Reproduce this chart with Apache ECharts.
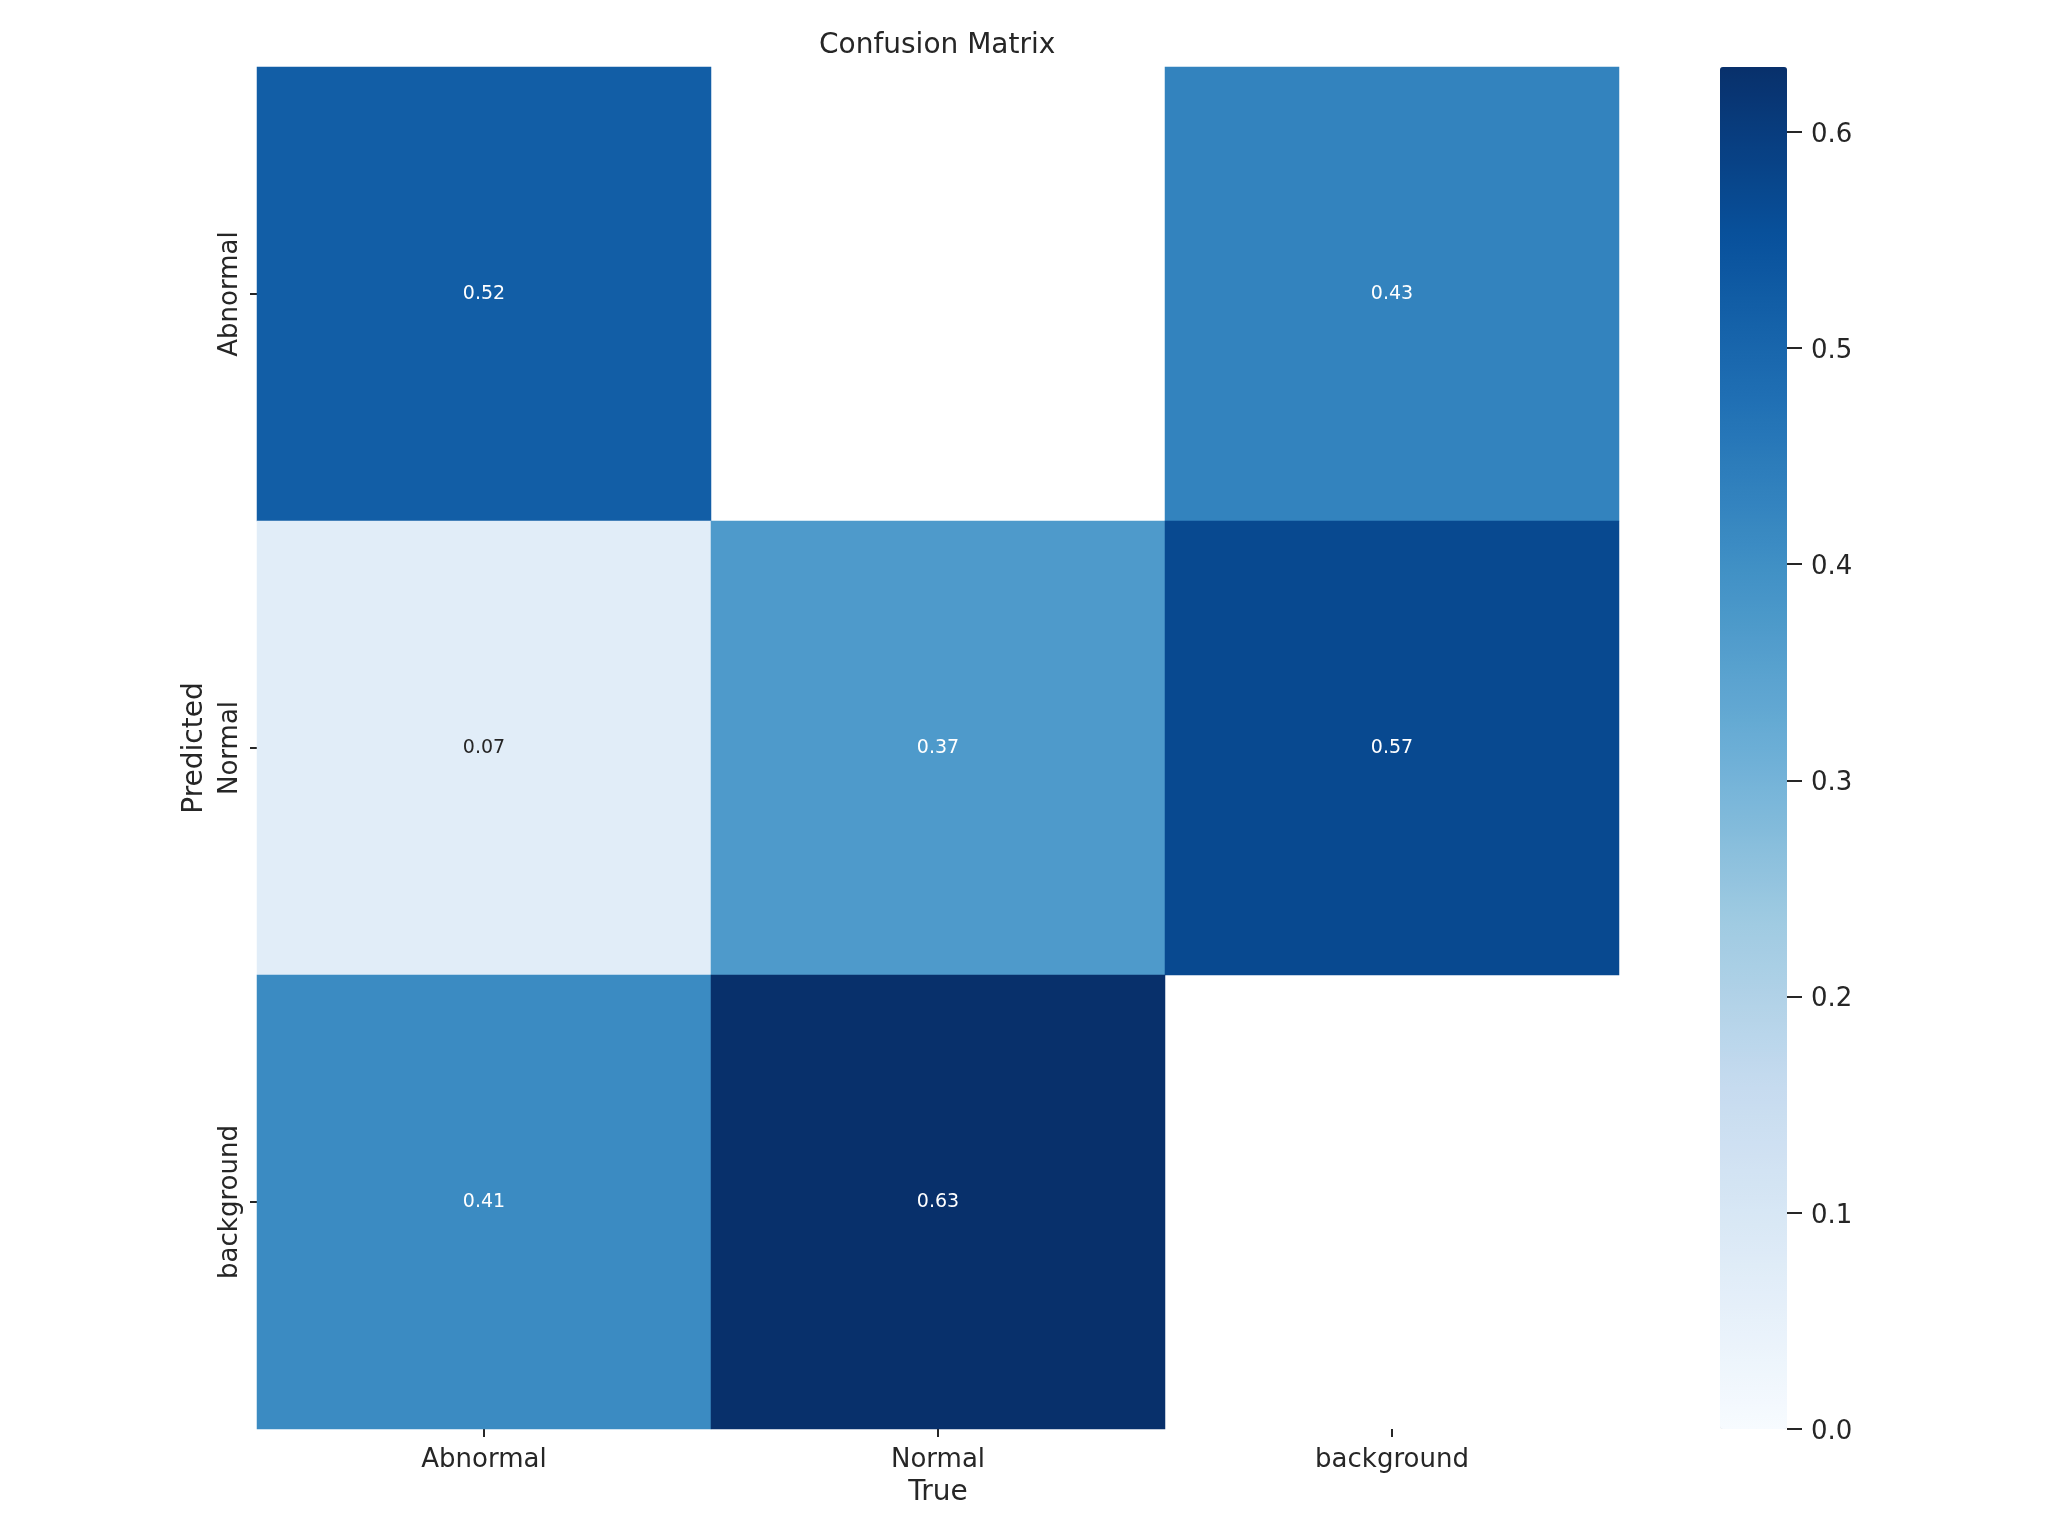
<!DOCTYPE html>
<html>
<head>
<meta charset="utf-8">
<script src="https://cdn.jsdelivr.net/npm/echarts@6/dist/echarts.min.js"></script>
<style>
html,body{margin:0;padding:0;background:#fff;}
#chart{width:2048px;height:1536px;}
</style>
</head>
<body>
<div id="chart"></div>
<script>
// True classes (columns) and Predicted classes (rows)
var trueLabels = ['Abnormal', 'Normal', 'background'];
var predictedLabels = ['Abnormal', 'Normal', 'background'];
// Rows = Predicted, columns = True (null = empty cell)
var rowAbnormal = [0.52, null, 0.43];
var rowNormal = [0.07, 0.37, 0.57];
var rowBackground = [0.41, 0.63, null];
var colorbarTicks = [0, 0.1, 0.2, 0.3, 0.4, 0.5, 0.6];
var colorMin = 0;
var colorMax = 0.63;
var blues = ['#f7fbff', '#deebf7', '#c6dbef', '#9ecae1', '#6baed6', '#4292c6', '#2171b5', '#08519c', '#08306b'];

var rows = [rowAbnormal, rowNormal, rowBackground];
var data = [];
rows.forEach(function (row, r) {
  row.forEach(function (v, c) {
    if (v === null) return;
    data.push({
      value: [c, r, v],
      label: { color: (v / colorMax) < 0.3 ? '#262626' : '#ffffff' }
    });
  });
});

var FONT = 'DejaVu Sans';
var TXT = '#262626';
var chart = echarts.init(document.getElementById('chart'), null, { renderer: 'canvas' });
chart.setOption({
  backgroundColor: '#ffffff',
  animation: false,
  textStyle: { fontFamily: FONT },
  title: {
    text: 'Confusion Matrix',
    left: 819, top: 32, padding: 0,
    textStyle: { fontFamily: FONT, fontSize: 28, fontWeight: 'normal', color: TXT }
  },
  grid: [
    { left: 257, top: 67, width: 1362, height: 1362 },
    { left: 1720, top: 67, width: 67, height: 1362 }
  ],
  xAxis: [
    {
      type: 'category', gridIndex: 0, data: trueLabels, position: 'bottom',
      name: 'True', nameLocation: 'middle', nameGap: 50,
      nameTextStyle: { fontFamily: FONT, fontSize: 28, color: TXT },
      axisLine: { show: false },
      axisTick: { show: true, alignWithLabel: true, length: 8, lineStyle: { color: TXT, width: 2 } },
      axisLabel: { fontFamily: FONT, fontSize: 26, color: TXT, margin: 18 },
      splitLine: { show: false }, splitArea: { show: false }
    },
    { type: 'value', gridIndex: 1, show: false, min: 0, max: 1 }
  ],
  yAxis: [
    {
      type: 'category', gridIndex: 0, data: predictedLabels, inverse: true,
      name: 'Predicted', nameLocation: 'middle', nameRotate: 90, nameGap: 47,
      nameTextStyle: { fontFamily: FONT, fontSize: 28, color: TXT },
      axisLine: { show: false },
      axisTick: { show: true, alignWithLabel: true, length: 7, lineStyle: { color: TXT, width: 2 } },
      axisLabel: { fontFamily: FONT, fontSize: 26, color: TXT, rotate: 90, margin: 14 },
      splitLine: { show: false }, splitArea: { show: false }
    },
    {
      type: 'value', gridIndex: 1, position: 'right', min: colorMin, max: colorMax,
      axisLine: { show: false, onZero: false },
      splitLine: { show: false },
      axisTick: { show: true, length: 15, customValues: colorbarTicks, lineStyle: { color: TXT, width: 2 } },
      axisLabel: {
        fontFamily: FONT, fontSize: 26, color: TXT, margin: 24,
        customValues: colorbarTicks,
        formatter: function (v) { return '{v|' + v.toFixed(1) + '}'; },
        rich: { v: { fontFamily: FONT, fontSize: 26, color: TXT, padding: [6, 0, 0, 0] } }
      }
    }
  ],
  visualMap: {
    type: 'continuous', min: colorMin, max: colorMax, seriesIndex: 0,
    calculable: false, hoverLink: false, realtime: false,
    orient: 'vertical', left: 1720, top: 67, padding: 0,
    itemWidth: 67, itemHeight: 1362, text: null, showLabel: false,
    inRange: { color: blues }
  },
  series: [
    {
      type: 'heatmap', xAxisIndex: 0, yAxisIndex: 0, data: data,
      label: {
        show: true, fontFamily: FONT, fontSize: 19,
        formatter: function (p) { return p.value[2].toFixed(2); }
      },
      itemStyle: { borderWidth: 0 },
      emphasis: { disabled: true }
    },
    {
      type: 'scatter', xAxisIndex: 1, yAxisIndex: 1, data: [], silent: true
    }
  ]
});
</script>
</body>
</html>
